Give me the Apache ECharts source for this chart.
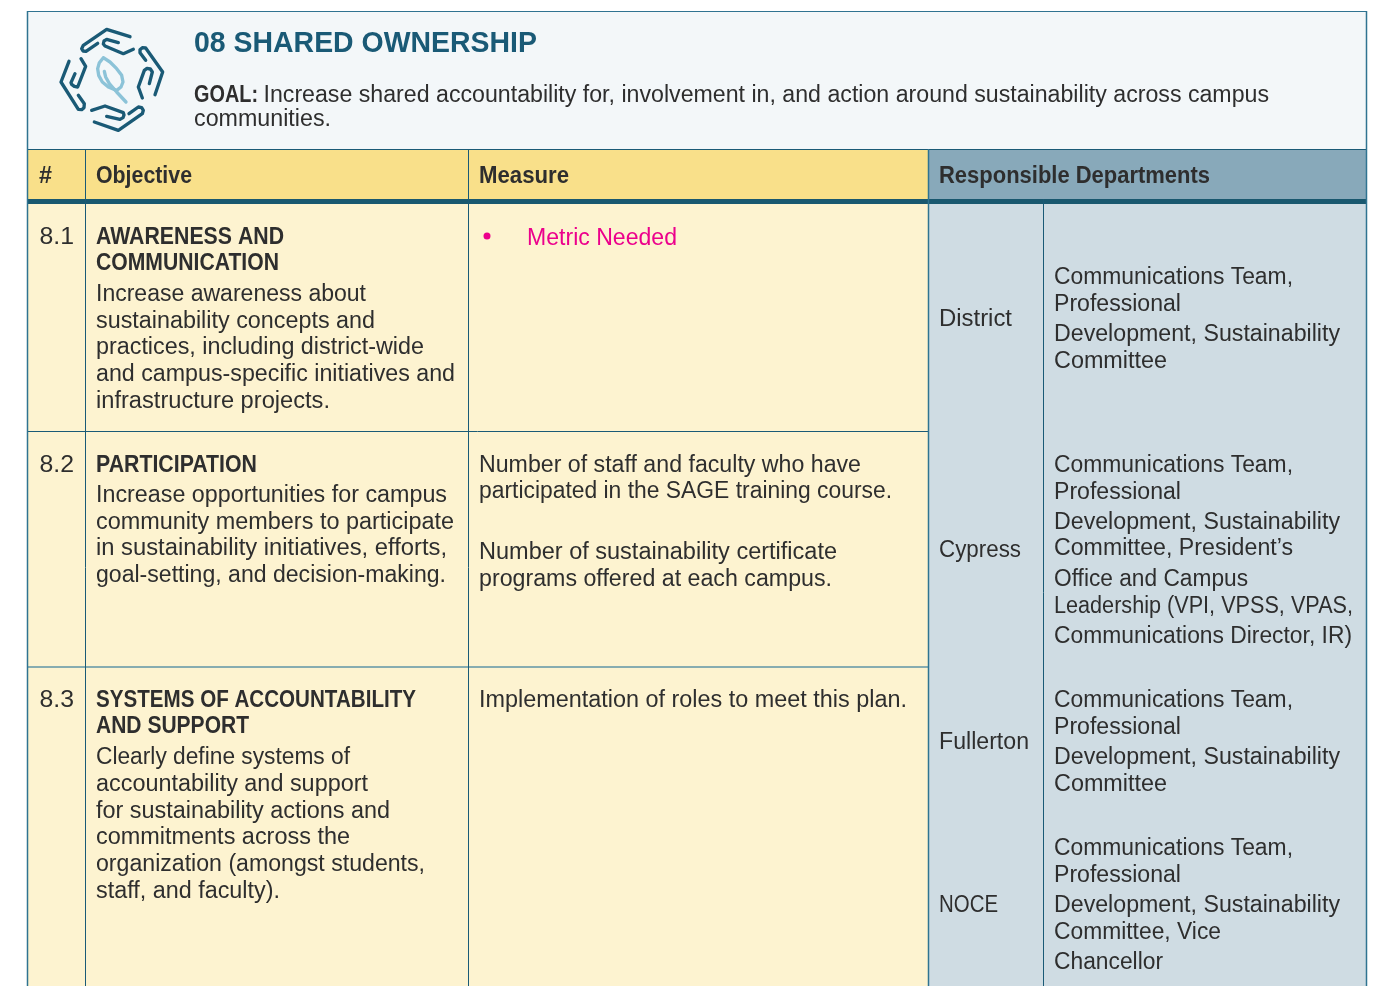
<!DOCTYPE html>
<html><head><meta charset="utf-8"><style>html,body{margin:0;padding:0;background:#fff;overflow:hidden}#c{width:1382px;height:986px}</style>
<script src="https://cdn.jsdelivr.net/npm/echarts@6/dist/echarts.min.js"></script></head><body><div id="c"></div>
<script>
const titleText = '08 SHARED OWNERSHIP';
const goalLabel = 'GOAL:';
const goalLines = ['Increase shared accountability for, involvement in, and action around sustainability across campus', 'communities.'];
const columnHeads = ['#', 'Objective', 'Measure', 'Responsible Departments'];
const objectiveIds = ['8.1', '8.2', '8.3'];
const objectiveHeads = ['AWARENESS AND', 'COMMUNICATION', 'PARTICIPATION', 'SYSTEMS OF ACCOUNTABILITY', 'AND SUPPORT'];
const objectiveBody = ['Increase awareness about', 'sustainability concepts and', 'practices, including district-wide', 'and campus-specific initiatives and', 'infrastructure projects.',
  'Increase opportunities for campus', 'community members to participate', 'in sustainability initiatives, efforts,', 'goal-setting, and decision-making.',
  'Clearly define systems of', 'accountability and support', 'for sustainability actions and', 'commitments across the', 'organization (amongst students,', 'staff, and faculty).'];
const metricText = ['Metric Needed'];
const measureLines = ['Number of staff and faculty who have', 'participated in the SAGE training course.', 'Number of sustainability certificate', 'programs offered at each campus.', 'Implementation of roles to meet this plan.'];
const campuses = ['District', 'Cypress', 'Fullerton', 'NOCE'];
const departmentLines = ['Communications Team,', 'Professional', 'Development, Sustainability', 'Committee',
  'Communications Team,', 'Professional', 'Development, Sustainability', 'Committee, President\u2019s', 'Office and Campus', 'Leadership (VPI, VPSS, VPAS,', 'Communications Director, IR)',
  'Communications Team,', 'Professional', 'Development, Sustainability', 'Committee',
  'Communications Team,', 'Professional', 'Development, Sustainability', 'Committee, Vice', 'Chancellor'];

// layout: vertical centres and right edges of each text line
const idY = [236, 464, 699];
const headY = [236, 262, 464, 699, 725];
const headR = [284, 279, 257, 416, 249];
const bodyY = [293, 320, 346, 373, 400, 494, 521, 547, 574, 756, 783, 810, 836, 863, 890];
const bodyR = [366, 375, 424, 455, 330, 447, 454, 447, 446, 350, 368, 390, 350, 425, 280];
const measureY = [464, 490, 551, 578, 699];
const measureR = [861, 892, 837, 832, 907];
const campusY = [318, 549, 741, 904];
const campusR = [1012, 1021, 1029, 998];
const deptY = [276, 303, 333, 360, 464, 491, 521, 547, 578, 605, 635, 699, 726, 756, 783, 847, 874, 904, 931, 961];
const deptR = [1293, 1181, 1340, 1167, 1293, 1181, 1340, 1293, 1248, 1353, 1352, 1293, 1181, 1340, 1167, 1293, 1181, 1340, 1221, 1163];
const FONT = '"Liberation Sans", sans-serif';
const INK = '#2e2e2e', TEAL = '#1a5a76';
const YOFF = 2;

const ctx = document.createElement('canvas').getContext('2d');
const g = [];
const rect = (x, y, w, h, fill) => g.push({type:'rect', silent:true, shape:{x, y, width:w, height:h}, style:{fill}});
const hLine = (x1, x2, y, c, lw) => g.push({type:'line', silent:true, shape:{x1, y1:y, x2, y2:y}, style:{stroke:c, lineWidth:lw}});
const vLine = (x, y1, y2, c, lw) => g.push({type:'line', silent:true, shape:{x1:x, y1, x2:x, y2}, style:{stroke:c, lineWidth:lw}});
const txt = (s, x, right, y, size, weight, fill) => {
  const font = `${weight} ${size}px ${FONT}`;
  ctx.font = font;
  const sx = (right - x) / ctx.measureText(s).width;
  g.push({type:'text', silent:true, x, y: y + YOFF, scaleX: sx, style:{text:s, x:0, y:0, font, fill, textVerticalAlign:'middle', textAlign:'left'}});
};

rect(27, 11, 1340, 138, '#f3f7f9');
rect(27, 149, 901, 51, '#f9e08a');
rect(928, 149, 439, 51, '#88a9ba');
rect(27, 204, 901, 782, '#fdf3d0');
rect(928, 204, 439, 782, '#cfdce3');
rect(27, 199, 1340, 5, '#19586f');

hLine(27, 1367, 11.5, '#2f7391', 1);
hLine(27, 1367, 149.5, TEAL, 1);
hLine(27, 928, 431.5, TEAL, 1);
hLine(27, 928, 667, '#5f95a6', 1.5);
vLine(27.5, 11, 986, '#2f7391', 1.5);
vLine(1366.5, 11, 986, '#2f7391', 1.5);
vLine(85.5, 149, 986, TEAL, 1);
vLine(468.5, 149, 986, TEAL, 1);
vLine(928.5, 149, 986, '#2f7391', 1.5);
vLine(1043.5, 199, 986, TEAL, 1);

// icon outlines, in 3x crop units
const iconDark = [
  [[225,44],[155,22],[85,70],[80,80],[84,87],[93,88],[128,64]],
  [[190,62],[155,52],[147,57],[145,66],[150,72],[205,95],[235,82]],
  [[272,115],[255,92],[255,83],[262,77],[272,78],[323,150],[300,218]],
  [[283,185],[292,150],[286,141],[276,139],[268,145],[250,195],[262,228]],
  [[118,300],[190,325],[262,275],[265,265],[260,257],[250,255],[222,275]],
  [[155,283],[195,292],[204,287],[207,279],[205,272],[150,252],[110,265]],
  [[42,118],[18,180],[70,262],[80,263],[87,257],[88,245],[70,220]],
  [[78,110],[92,133],[68,195],[58,193],[50,187],[48,182],[60,155]]
];
const iconLight = [
  [[145,107],[133,122],[128,140],[131,160],[142,180],[160,195],[185,205],[198,195],[204,180],[200,160],[185,140],[165,120],[145,107]],
  [[148,148],[152,165],[163,185],[185,210],[213,240]]
];
const iconEl = (pts, c) => ({type:'polyline', silent:true, shape:{points:pts}, style:{fill:'none', stroke:c, lineWidth:10, lineCap:'round', lineJoin:'round'}});
g.push({type:'group', x:55, y:22, scaleX:1/3, scaleY:1/3, silent:true, children:[...iconDark.map(d=>iconEl(d,'#1a5a76')), ...iconLight.map(d=>iconEl(d,'#8cc3d8'))]});

txt(titleText, 194, 537, 42, 29, 'bold', TEAL);
txt(goalLabel, 194, 258, 93.5, 23, 'bold', INK);
txt(goalLines[0], 263.5, 1269, 93.5, 23, 'normal', INK);
txt(goalLines[1], 194, 331, 117.5, 23, 'normal', INK);

[39, 96, 479, 939].forEach((x, i) => txt(columnHeads[i], x, [52, 192, 569, 1210][i], 175, 23, 'bold', INK));
objectiveIds.forEach((s, i) => txt(s, 39.5, 74, idY[i], 23, 'normal', INK));
objectiveHeads.forEach((s, i) => txt(s, 96, headR[i], headY[i], 23, 'bold', INK));
objectiveBody.forEach((s, i) => txt(s, 96, bodyR[i], bodyY[i], 23, 'normal', INK));
g.push({type:'circle', silent:true, shape:{cx:487, cy:236, r:3.5}, style:{fill:'#ec008c'}});
txt(metricText[0], 527, 677, 236.5, 23, 'normal', '#ec008c');
measureLines.forEach((s, i) => txt(s, 479, measureR[i], measureY[i], 23, 'normal', INK));
campuses.forEach((s, i) => txt(s, 939, campusR[i], campusY[i], 23, 'normal', INK));
departmentLines.forEach((s, i) => txt(s, 1054, deptR[i], deptY[i], 23, 'normal', INK));

const chart = echarts.init(document.getElementById('c'), null, {renderer:'canvas'});
chart.setOption({animation:false, backgroundColor:'#fff', graphic:{elements:g}});
</script></body></html>
